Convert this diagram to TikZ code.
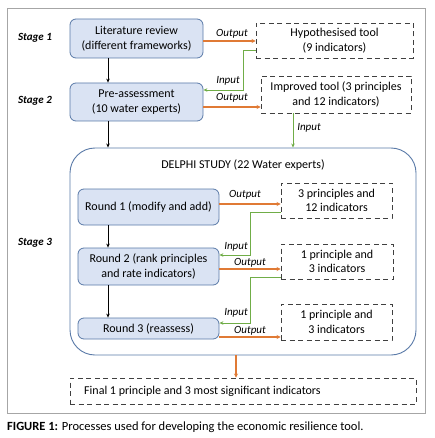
\documentclass[tikz,border=0pt]{standalone}
\usepackage{fontspec}
\setmainfont{Carlito}
\usetikzlibrary{arrows.meta,calc}
\definecolor{boxfill}{HTML}{DAE3F3}
\definecolor{boxdraw}{HTML}{5A7AA8}
\definecolor{outorange}{HTML}{E07A35}
\definecolor{ingreen}{HTML}{70AD47}
\definecolor{dashgray}{HTML}{404040}
\definecolor{framegray}{HTML}{A6A6A6}
\tikzset{
  txt/.style={font=\fontsize{12}{14.5}\selectfont, align=center},
  bluebox/.style={txt, draw=boxdraw, fill=boxfill, line width=0.8pt, rounded corners=6pt, inner sep=0pt},
  dashbox/.style={txt, draw=dashgray, dash pattern=on 5pt off 3.5pt, line width=0.9pt, inner sep=0pt},
  stagelbl/.style={font=\fontsize{11}{13}\selectfont\bfseries\itshape},
  lbl/.style={font=\fontsize{11}{13}\selectfont\itshape, inner sep=0pt},
  blackarrow/.style={draw=black, line width=1pt, -{Stealth[length=4pt,width=3.5pt]}},
  outarrow/.style={draw=outorange, line width=1.4pt, -{Stealth[length=4pt,width=4pt]}},
  inarrow/.style={draw=ingreen, line width=0.9pt, -{Stealth[length=4pt,width=3.5pt]}},
}
\begin{document}
\begin{tikzpicture}[x=1pt,y=-1pt]
\useasboundingbox (0,0) rectangle (434,438);
\fill[white] (0,0) rectangle (434,438);
\draw[framegray, line width=0.8pt] (7,8) rectangle (425,413);

% stage labels
\node[stagelbl] (s1) at (35,38) {Stage 1};
\node[stagelbl] (s2) at (35,101) {Stage 2};
\node[stagelbl] (s3) at (35,243) {Stage 3};

% left column boxes
\node[bluebox, minimum width=133pt, minimum height=39pt] (lit) at (136.5,38.5) {Literature review\\(different frameworks)};
\node[bluebox, minimum width=133pt, minimum height=38pt] (pre) at (136.5,102) {Pre-assessment\\(10 water experts)};

% right dashed boxes top
\node[dashbox, minimum width=157pt, minimum height=35pt] (hyp) at (334.5,40.5) {Hypothesised tool\\(9 indicators)};
\node[dashbox, minimum width=150pt, minimum height=37pt] (imp) at (336,94.5) {Improved tool (3 principles\\and 12 indicators)};

% Delphi container
\node[draw=boxdraw, fill=white, line width=0.9pt, rounded corners=25pt, minimum width=346pt, minimum height=207pt, inner sep=0pt] (delphi) at (243,251.5) {};
\node[txt] (dtitle) at (243,165) {DELPHI STUDY (22 Water experts)};

\node[bluebox, minimum width=141pt, minimum height=36pt] (r1) at (148.5,207) {Round 1 (modify and add)};
\node[bluebox, minimum width=141pt, minimum height=37pt] (r2) at (148.5,266.5) {Round 2 (rank principles\\and rate indicators)};
\node[bluebox, minimum width=141pt, minimum height=21pt] (r3) at (148.5,328.5) {Round 3 (reassess)};

\node[dashbox, minimum width=111pt, minimum height=35pt] (d1) at (336.5,200.5) {3 principles and\\12 indicators};
\node[dashbox, minimum width=112pt, minimum height=35pt] (d2) at (337,261.5) {1 principle and\\3 indicators};
\node[dashbox, minimum width=111pt, minimum height=36pt] (d3) at (336.5,322) {1 principle and\\3 indicators};

% final box
\node[dashbox, minimum width=346pt, minimum height=26pt] (fin) at (243,391) {};
\node[txt, anchor=west, inner sep=0pt] (fintxt) at (84,391) {Final 1 principle and 3 most significant indicators};

% caption
\node[anchor=west, inner sep=0pt, font=\fontsize{12.5}{14}\selectfont] (cap) at (7,427) {\textbf{FIGURE 1:} Processes used for developing the economic resilience tool.};

% helper coordinates
\coordinate (ax) at (108,0);
\coordinate (gx) at (293,0);
\coordinate (ox) at (236,0);

% black arrows
\draw[blackarrow] (lit.south -| ax) -- (pre.north -| ax);
\draw[blackarrow] (pre.south -| ax) -- (delphi.north -| ax);
\draw[blackarrow] (r1.south -| ax) -- (r2.north -| ax);
\draw[blackarrow] (r2.south -| ax) -- (r3.north -| ax);

% output arrows
\draw[outarrow] (lit.east |- 0,41) -- (hyp.west |- 0,41);
\draw[outarrow] (pre.east |- 0,107) -- (imp.west |- 0,107);
\draw[outarrow] (r1.east |- 0,204) -- (d1.west |- 0,204);
\draw[outarrow] (r2.east |- 0,269) -- (d2.west |- 0,269);
\draw[outarrow] (r3.east |- 0,337) -- (d3.west |- 0,337);
\draw[outarrow] (delphi.south -| ox) -- (fin.north -| ox);

% input arrows
\draw[inarrow] (hyp.west |- 0,50) -| (243,90) -- (pre.east |- 0,90);
\draw[inarrow] (imp.south -| gx) -- (delphi.north -| gx);
\draw[inarrow] (d1.west |- 0,212) -| (250,255) -- (r2.east |- 0,255);
\draw[inarrow] (d2.west |- 0,277) -| (250,323) -- (r3.east |- 0,323);

% labels
\node[lbl] (lo1) at (232,34) {Output};
\node[lbl] (li1) at (228,81) {Input};
\node[lbl] (lo2) at (232,98) {Output};
\node[lbl] (li2) at (309,128) {Input};
\node[lbl] (lo3) at (245,195) {Output};
\node[lbl] (li3) at (236,247) {Input};
\node[lbl] (lo4) at (250,263) {Output};
\node[lbl] (li4) at (236,313) {Input};
\node[lbl] (lo5) at (250,331) {Output};
\end{tikzpicture}
\end{document}
